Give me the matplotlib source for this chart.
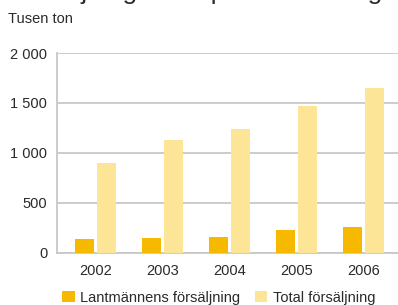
import matplotlib
matplotlib.use("Agg")
import matplotlib.pyplot as plt
from matplotlib.patches import Patch
import numpy as np

years = ["2002", "2003", "2004", "2005", "2006"]
lantmannen = [140, 150, 160, 230, 260]
total = [900, 1130, 1240, 1470, 1650]
yticks = [0, 500, 1000, 1500, 2000]
ytick_labels = ["0", "500", "1 000", "1 500", "2 000"]
series_names = ["Lantmännens försäljning", "Total försäljning"]
title = "Försäljning av träpellets i Sverige"
unit = "Tusen ton"

dark = "#F7B900"
light = "#FDE597"
grid_c = "#C8C8C8"
text_c = "#2A2A2A"

plt.rcParams['font.family'] = ['Liberation Sans', 'DejaVu Sans']

fig = plt.figure(figsize=(3.98, 3.05), dpi=100)
ax = fig.add_axes([57/398, 52/305, 341/398, 200/305])

x = np.arange(len(years))
w = 0.284
off = 0.164
ax.bar(x - off, lantmannen, width=w, color=dark, zorder=3)
ax.bar(x + off, total, width=w, color=light, zorder=3)

ax.set_xlim(-0.575, 4.51)
ax.set_ylim(0, 2000)
ax.set_yticks(yticks)
ax.set_yticklabels(ytick_labels)
ax.set_xticks(x)
ax.set_xticklabels(years)
ax.tick_params(axis='both', length=0, labelsize=10.5, colors=text_c)
ax.tick_params(axis='y', pad=7)
ax.tick_params(axis='x', pad=8)

ax.yaxis.grid(True, color=grid_c, linewidth=1.3, zorder=0)
ax.set_axisbelow(True)
for s in ["top", "right"]:
    ax.spines[s].set_visible(False)
ax.spines["left"].set_color(grid_c)
ax.spines["left"].set_linewidth(1.3)
ax.spines["bottom"].set_color(grid_c)
ax.spines["bottom"].set_linewidth(1.3)

fig.text(8/398, 1 + 1.5/305, title, fontsize=19, color=text_c, va='baseline', ha='left')
fig.text(8/398, 1 - 23/305, unit, fontsize=10.5, color=text_c, va='baseline', ha='left')

handles = [Patch(facecolor=dark, edgecolor='none'), Patch(facecolor=light, edgecolor='none')]
fig.legend(handles, series_names, loc='lower left', bbox_to_anchor=(49/398, -13/305), ncol=2,
           frameon=False, fontsize=10.5, handlelength=0.85, handleheight=0.8,
           handletextpad=0.4, columnspacing=1.0, labelcolor=text_c)

fig.savefig("out.png", dpi=100)
